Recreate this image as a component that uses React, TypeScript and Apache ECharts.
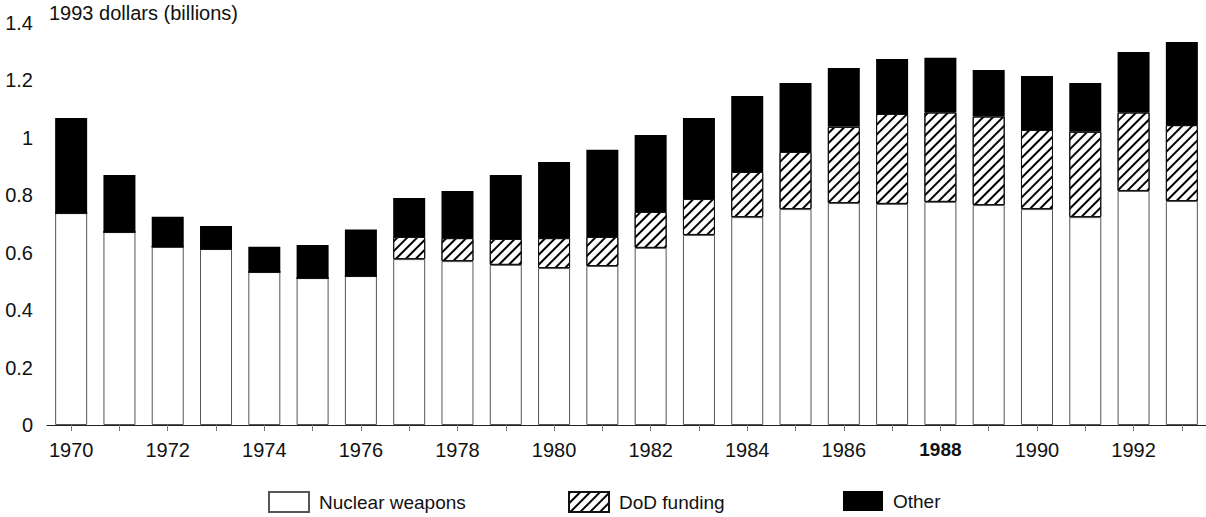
import React, { useEffect, useRef } from "react";
import * as echarts from "echarts";

const years = [
  "1970", "1971", "1972", "1973", "1974", "1975", "1976", "1977", "1978", "1979",
  "1980", "1981", "1982", "1983", "1984", "1985", "1986", "1987", "1988", "1989",
  "1990", "1991", "1992", "1993",
];
const nuclearWeapons = [
  0.737, 0.671, 0.62, 0.612, 0.532, 0.511, 0.518, 0.577, 0.57, 0.557,
  0.546, 0.553, 0.616, 0.661, 0.723, 0.751, 0.772, 0.769, 0.776, 0.765,
  0.751, 0.723, 0.814, 0.779,
];
const dodFunding = [
  0, 0, 0, 0, 0, 0, 0, 0.077, 0.08, 0.09,
  0.104, 0.101, 0.125, 0.125, 0.157, 0.199, 0.265, 0.313, 0.311, 0.308,
  0.275, 0.297, 0.273, 0.264,
];
const other = [
  0.331, 0.199, 0.104, 0.08, 0.088, 0.115, 0.162, 0.136, 0.164, 0.223,
  0.265, 0.303, 0.268, 0.282, 0.264, 0.24, 0.205, 0.191, 0.19, 0.162,
  0.188, 0.17, 0.21, 0.289,
];
const yTicks = { min: 0, max: 1.4, interval: 0.2 };
const unitLabel = "1993 dollars (billions)";

const FONT = "'Liberation Sans', Arial, Helvetica, sans-serif";

export default function App() {
  const ref = useRef<HTMLDivElement>(null);
  useEffect(() => {
    if (!ref.current) return;
    const chart = echarts.init(ref.current, null, { renderer: "svg" });
    const legendText = {
      fontFamily: FONT,
      fontSize: 19,
      lineHeight: 20,
      color: "#111",
      padding: [0, 0, 0, 5],
    };
    const mkLegend = (name: string, left: number) => ({
      data: [name],
      left,
      top: 491,
      padding: 0,
      icon: "rect",
      itemWidth: 40,
      itemHeight: 20,
      textStyle: legendText,
    });
    chart.setOption({
      animation: false,
      backgroundColor: "#fff",
      graphic: [
        {
          type: "text",
          left: 49,
          top: 3,
          style: { text: unitLabel, font: `20px ${FONT}`, fill: "#111" },
        },
      ],
      legend: [
        mkLegend("Nuclear weapons", 268),
        mkLegend("DoD funding", 568),
        mkLegend("Other", 843),
      ],
      grid: { left: 47, right: 0, top: 22.5, bottom: 92 },
      xAxis: {
        type: "category",
        data: years,
        axisLine: { show: true, lineStyle: { color: "#222", width: 1 } },
        axisTick: { show: true, alignWithLabel: true, interval: 0, length: 6, lineStyle: { color: "#777" } },
        axisLabel: {
          interval: 1,
          margin: 15,
          fontFamily: FONT,
          fontSize: 20,
          color: "#111",
          formatter: (v: string) => (v === "1988" ? `{b|${v}}` : v),
          rich: { b: { fontFamily: FONT, fontSize: 19, fontWeight: "bold", color: "#111" } },
        },
      },
      yAxis: {
        type: "value",
        min: yTicks.min,
        max: yTicks.max,
        interval: yTicks.interval,
        axisLine: { show: false },
        axisTick: { show: false },
        splitLine: { show: false },
        axisLabel: { margin: 14, fontFamily: FONT, fontSize: 20, color: "#111" },
      },
      series: [
        {
          name: "Nuclear weapons",
          type: "bar",
          stack: "total",
          barWidth: 32,
          data: nuclearWeapons,
          itemStyle: { color: "#fff", borderColor: "#555", borderWidth: 1 },
        },
        {
          name: "DoD funding",
          type: "bar",
          stack: "total",
          barWidth: 32,
          data: dodFunding,
          itemStyle: {
            color: "#fff",
            borderColor: "#111",
            borderWidth: 1,
            decal: {
              symbol: "rect",
              symbolSize: 1,
              dashArrayX: [1, 0],
              dashArrayY: [2, 5],
              rotation: -Math.PI / 4,
              color: "#000",
              backgroundColor: "#fff",
            },
          },
        },
        {
          name: "Other",
          type: "bar",
          stack: "total",
          barWidth: 32,
          data: other,
          itemStyle: { color: "#000", borderColor: "#000", borderWidth: 0 },
        },
      ],
    });
    return () => chart.dispose();
  }, []);
  return (
    <div
      ref={ref}
      style={{ position: "fixed", left: 0, top: 0, width: 1206, height: 517, background: "#fff" }}
    />
  );
}
